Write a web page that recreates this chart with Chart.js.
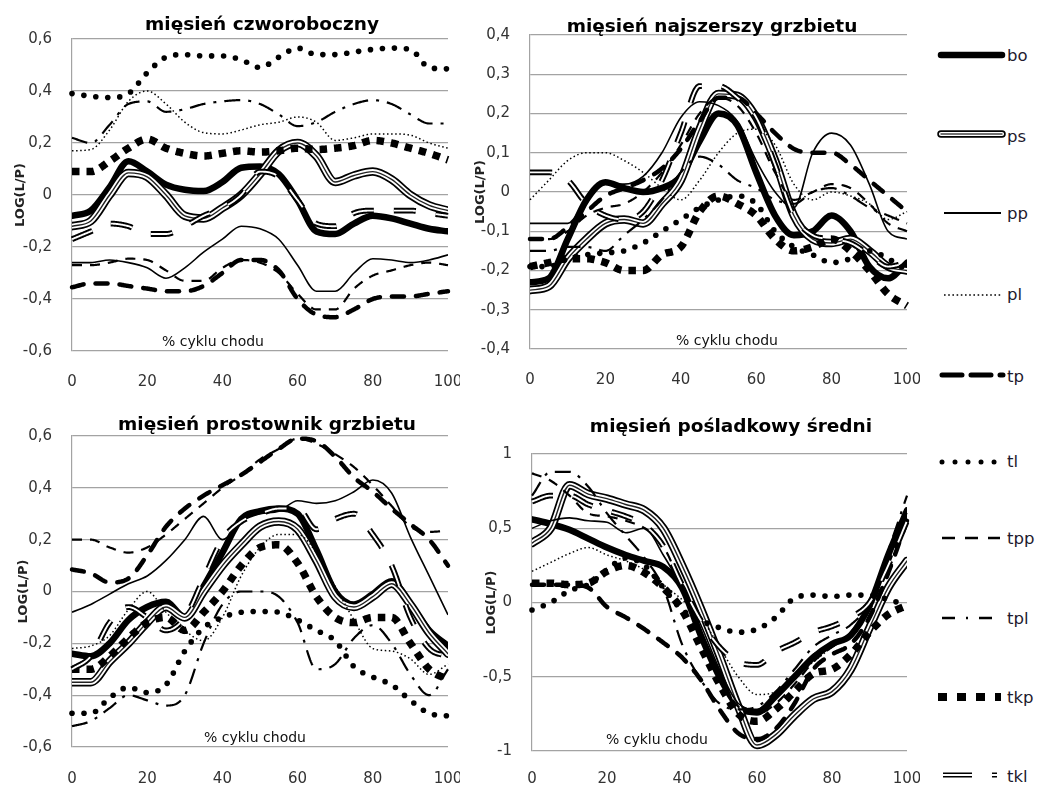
<!DOCTYPE html>
<html><head><meta charset="utf-8">
<script src="https://cdn.jsdelivr.net/npm/chart.js@4.4.1/dist/chart.umd.min.js"></script>
<style>
html,body{margin:0;padding:0;background:#fff;}
#wrap{position:relative;width:1039px;height:786px;background:#fff;overflow:hidden;}
canvas{position:absolute;}
#legend{position:absolute;left:920px;top:0;}
</style></head><body>
<div id="wrap">
<canvas id="c1" width="460" height="395" style="left:0;top:0"></canvas>
<canvas id="c2" width="460" height="395" style="left:460px;top:0"></canvas>
<canvas id="c3" width="460" height="391" style="left:0;top:395px"></canvas>
<canvas id="c4" width="460" height="391" style="left:460px;top:395px"></canvas>
<svg id="legend" width="119" height="786"></svg>
</div>
<script>
// ---------- DATA ----------
const xs = [0,5,10,15,20,25,30,35,40,45,50,55,60,65,70,75,80,85,90,95,100];
const xTicks = [0,20,40,60,80,100];
const seriesNames = ['bo','ps','pp','pl','tp','tl','tpp','tpl','tkp','tkl'];
const titles = ['mięsień czworoboczny','mięsień najszerszy grzbietu','mięsień prostownik grzbietu','mięsień pośladkowy średni'];
const yTicks1 = [-0.6,-0.4,-0.2,0,0.2,0.4,0.6];
const yTicks2 = [-0.4,-0.3,-0.2,-0.1,0,0.1,0.2,0.3,0.4];
const yTicks3 = [-0.6,-0.4,-0.2,0,0.2,0.4,0.6];
const yTicks4 = [-1,-0.5,0,0.5,1];

// mięsień czworoboczny
const t_bo  = [-0.08,-0.06,0.03,0.13,0.09,0.04,0.02,0.015,0.05,0.105,0.11,0.08,-0.02,-0.14,-0.15,-0.11,-0.08,-0.09,-0.11,-0.13,-0.14];
const t_ps  = [-0.12,-0.1,0.0,0.085,0.07,0.0,-0.08,-0.09,-0.05,0.0,0.08,0.17,0.2,0.15,0.05,0.075,0.09,0.06,0.0,-0.04,-0.06];
const t_pp  = [-0.26,-0.26,-0.25,-0.26,-0.28,-0.32,-0.28,-0.22,-0.17,-0.12,-0.13,-0.17,-0.27,-0.37,-0.37,-0.3,-0.245,-0.25,-0.26,-0.25,-0.23];
const t_pl  = [0.17,0.175,0.25,0.36,0.4,0.35,0.28,0.24,0.235,0.25,0.27,0.28,0.3,0.28,0.21,0.22,0.235,0.235,0.23,0.2,0.18];
const t_tp  = [-0.355,-0.34,-0.34,-0.35,-0.36,-0.37,-0.37,-0.35,-0.3,-0.25,-0.25,-0.29,-0.4,-0.46,-0.47,-0.44,-0.4,-0.39,-0.39,-0.38,-0.37];
const t_tl  = [0.39,0.38,0.375,0.39,0.47,0.53,0.54,0.535,0.535,0.52,0.49,0.53,0.565,0.54,0.54,0.55,0.56,0.565,0.56,0.49,0.485];
const t_tpp = [-0.27,-0.27,-0.26,-0.245,-0.25,-0.29,-0.33,-0.33,-0.28,-0.25,-0.26,-0.3,-0.38,-0.44,-0.44,-0.36,-0.31,-0.29,-0.27,-0.26,-0.27];
const t_tpl = [0.22,0.2,0.27,0.35,0.36,0.32,0.33,0.35,0.36,0.365,0.35,0.31,0.265,0.28,0.32,0.35,0.365,0.35,0.31,0.275,0.275];
const t_tkp = [0.09,0.09,0.13,0.18,0.215,0.18,0.16,0.15,0.16,0.17,0.165,0.17,0.18,0.175,0.18,0.19,0.21,0.2,0.18,0.16,0.135];
const t_tkl = [-0.17,-0.14,-0.11,-0.12,-0.15,-0.15,-0.12,-0.08,-0.05,0.0,0.09,0.07,-0.02,-0.11,-0.12,-0.07,-0.06,-0.06,-0.06,-0.07,-0.08];

// mięsień najszerszy grzbietu
const l_bo  = [-0.23,-0.22,-0.12,-0.02,0.025,0.01,0.0,0.01,0.04,0.13,0.2,0.17,0.05,-0.06,-0.11,-0.1,-0.06,-0.1,-0.19,-0.22,-0.18];
const l_ps  = [-0.25,-0.24,-0.17,-0.12,-0.08,-0.07,-0.08,-0.03,0.03,0.16,0.25,0.245,0.19,0.08,-0.06,-0.12,-0.13,-0.12,-0.15,-0.19,-0.2];
const l_pp  = [-0.08,-0.08,-0.08,-0.02,0.02,0.02,0.04,0.1,0.19,0.23,0.22,0.18,0.08,0.0,-0.04,0.1,0.15,0.12,0.02,-0.1,-0.12];
const l_pl  = [-0.02,0.03,0.08,0.1,0.1,0.08,0.05,0.01,-0.02,0.03,0.1,0.15,0.16,0.12,0.02,-0.02,0.0,-0.01,-0.03,-0.07,-0.05];
const l_tp  = [-0.12,-0.12,-0.09,-0.05,-0.01,0.01,0.03,0.06,0.11,0.18,0.24,0.24,0.2,0.15,0.11,0.1,0.1,0.07,0.03,-0.01,-0.05];
const l_tl  = [-0.19,-0.19,-0.17,-0.16,-0.155,-0.15,-0.13,-0.1,-0.07,-0.04,-0.02,-0.01,-0.03,-0.1,-0.14,-0.16,-0.18,-0.17,-0.15,-0.17,-0.2];
const l_tpp = [-0.12,-0.12,-0.1,-0.06,-0.04,-0.03,0.0,0.05,0.12,0.2,0.24,0.22,0.15,0.05,-0.02,0.0,0.02,0.01,-0.03,-0.08,-0.1];
const l_tpl = [-0.15,-0.15,-0.14,-0.14,-0.15,-0.11,-0.07,-0.02,0.05,0.09,0.07,0.03,0.01,-0.02,-0.03,0.0,0.01,-0.01,-0.04,-0.06,-0.08];
const l_tkp = [-0.19,-0.18,-0.17,-0.17,-0.18,-0.2,-0.2,-0.16,-0.14,-0.05,-0.01,-0.03,-0.06,-0.12,-0.15,-0.14,-0.12,-0.15,-0.2,-0.26,-0.29];
const l_tkl = [0.05,0.05,0.03,-0.03,-0.06,-0.07,-0.05,0.03,0.15,0.27,0.27,0.24,0.19,0.07,-0.06,-0.11,-0.12,-0.13,-0.16,-0.19,-0.18];

// mięsień prostownik grzbietu
const e_bo  = [-0.24,-0.25,-0.2,-0.11,-0.06,-0.04,-0.1,0.02,0.15,0.28,0.31,0.32,0.3,0.16,0.0,-0.05,-0.01,0.04,-0.05,-0.15,-0.21];
const e_ps  = [-0.35,-0.35,-0.27,-0.2,-0.12,-0.06,-0.1,0.0,0.1,0.18,0.25,0.27,0.24,0.12,-0.02,-0.06,-0.02,0.03,-0.05,-0.16,-0.24];
const e_pp  = [-0.08,-0.05,-0.01,0.03,0.06,0.12,0.2,0.29,0.2,0.27,0.3,0.31,0.35,0.34,0.35,0.385,0.43,0.38,0.21,0.06,-0.09];
const e_pl  = [-0.22,-0.21,-0.17,-0.07,0.0,-0.08,-0.15,-0.19,-0.1,0.06,0.17,0.22,0.22,0.15,0.02,-0.11,-0.22,-0.23,-0.26,-0.32,-0.28];
const e_tp  = [0.085,0.07,0.035,0.05,0.14,0.25,0.32,0.37,0.41,0.45,0.5,0.55,0.59,0.58,0.52,0.44,0.385,0.32,0.26,0.2,0.1];
const e_tl  = [-0.47,-0.47,-0.41,-0.37,-0.39,-0.36,-0.23,-0.14,-0.1,-0.08,-0.077,-0.08,-0.11,-0.15,-0.19,-0.29,-0.33,-0.36,-0.42,-0.47,-0.48];
const e_tpp = [0.2,0.2,0.17,0.15,0.17,0.22,0.28,0.34,0.4,0.45,0.51,0.55,0.59,0.57,0.53,0.48,0.41,0.33,0.25,0.23,0.235];
const e_tpl = [-0.52,-0.5,-0.45,-0.4,-0.42,-0.44,-0.4,-0.2,-0.05,0.0,0.0,-0.02,-0.12,-0.3,-0.28,-0.18,-0.13,-0.2,-0.32,-0.4,-0.3];
const e_tkp = [-0.3,-0.3,-0.25,-0.18,-0.12,-0.1,-0.15,-0.08,0.0,0.1,0.17,0.18,0.11,-0.02,-0.1,-0.12,-0.1,-0.1,-0.2,-0.3,-0.34];
const e_tkl = [-0.3,-0.25,-0.12,-0.06,-0.1,-0.15,-0.1,0.05,0.2,0.27,0.3,0.32,0.32,0.24,0.28,0.3,0.22,0.1,-0.1,-0.22,-0.25];

// mięsień pośladkowy średni
const g_bo  = [0.56,0.53,0.49,0.43,0.37,0.32,0.28,0.24,0.1,-0.22,-0.5,-0.7,-0.74,-0.63,-0.5,-0.37,-0.28,-0.22,-0.02,0.32,0.62];
const g_ps  = [0.4,0.5,0.79,0.73,0.7,0.66,0.62,0.5,0.25,-0.04,-0.36,-0.7,-0.96,-0.89,-0.76,-0.65,-0.6,-0.45,-0.17,0.1,0.28];
const g_pp  = [0.5,0.55,0.57,0.55,0.54,0.47,0.5,0.32,0.1,-0.15,-0.45,-0.68,-0.72,-0.62,-0.5,-0.35,-0.3,-0.2,0.0,0.3,0.6];
const g_pl  = [0.21,0.27,0.33,0.37,0.32,0.28,0.22,0.12,0.02,-0.1,-0.3,-0.5,-0.62,-0.6,-0.5,-0.4,-0.3,-0.2,0.0,0.3,0.55];
const g_tp  = [0.12,0.12,0.12,0.1,-0.03,-0.1,-0.18,-0.27,-0.37,-0.52,-0.72,-0.88,-0.92,-0.85,-0.68,-0.45,-0.35,-0.28,-0.1,0.2,0.55];
const g_tl  = [-0.05,0.0,0.08,0.12,0.22,0.3,0.25,0.1,-0.05,-0.12,-0.17,-0.2,-0.18,-0.1,0.03,0.05,0.04,0.05,0.05,0.02,-0.02];
const g_tpp = [0.87,0.82,0.72,0.6,0.58,0.55,0.5,0.38,0.1,-0.2,-0.5,-0.7,-0.75,-0.68,-0.55,-0.4,-0.3,-0.22,-0.05,0.25,0.6];
const g_tpl = [0.72,0.88,0.88,0.78,0.6,0.45,0.3,0.1,-0.28,-0.52,-0.68,-0.72,-0.7,-0.6,-0.45,-0.3,-0.22,-0.15,0.0,0.35,0.72];
const g_tkp = [0.13,0.13,0.12,0.13,0.21,0.25,0.2,0.1,-0.05,-0.3,-0.55,-0.75,-0.8,-0.72,-0.6,-0.48,-0.45,-0.35,-0.2,-0.08,-0.02];
const g_tkl = [0.68,0.72,0.72,0.66,0.62,0.58,0.52,0.38,0.12,-0.12,-0.3,-0.4,-0.42,-0.33,-0.27,-0.2,-0.16,-0.1,0.0,0.25,0.55];

// ---------- STYLES ----------
const STYLE = {
  bo:  [{w:6.5, cap:'round'}],
  ps:  [{w:8.5, cap:'round'}, {w:5, c:'#ffffff', cap:'round'}, {w:1.4, c:'#222222', cap:'round'}],
  pp:  [{w:1.6}],
  pl:  [{w:1.5, dash:[1.5,2.6]}],
  tp:  [{w:4.5, dash:[12,12], cap:'round'}],
  tl:  [{w:5.5, dots:true, sp:12, r:2.8}],
  tpp: [{w:2.2, dash:[10,8]}],
  tpl: [{w:2.2, dash:[16,8,3,8]}],
  tkp: [{w:7.5, dash:[7.5,7]}],
  tkl: [{w:5.8, dash:[22,20]}, {w:1.9, c:'#ffffff', dash:[22,20]}]
};

Chart.defaults.font.family = "'DejaVu Sans', sans-serif";
Chart.defaults.color = '#333';

const fmt = v => String(Math.round(v*10)/10).replace('.', ',');

// stroke dashed / dotted curves along the path Chart.js computes for the dataset
function drawDashes(ctx, poly, m) {
  ctx.strokeStyle = m.color; ctx.lineWidth = m.w; ctx.lineCap = m.cap || 'butt'; ctx.lineJoin = 'round';
  const dash = m.dash;
  let di = 0, rem = dash[0], on = true;
  let cur = [poly[0]];
  const flush = () => {
    if (cur.length > 1) {
      ctx.beginPath(); ctx.moveTo(cur[0][0], cur[0][1]);
      for (let k = 1; k < cur.length; k++) ctx.lineTo(cur[k][0], cur[k][1]);
      ctx.stroke();
    }
  };
  for (let i = 1; i < poly.length; i++) {
    let px = poly[i-1][0], py = poly[i-1][1];
    const x1 = poly[i][0], y1 = poly[i][1];
    let len = Math.hypot(x1 - px, y1 - py);
    while (len > 0 && len >= rem) {
      const f = rem / len;
      px += (x1 - px) * f; py += (y1 - py) * f;
      len -= rem;
      if (on) { cur.push([px, py]); flush(); }
      di = (di + 1) % dash.length; rem = dash[di]; on = (di % 2 === 0);
      if (on) cur = [[px, py]];
    }
    rem -= len;
    if (on) cur.push([x1, y1]);
  }
  if (on) flush();
}
function drawDots(ctx, poly, m) {
  ctx.fillStyle = m.color;
  let rem = 0;
  for (let i = 1; i < poly.length; i++) {
    let px = poly[i-1][0], py = poly[i-1][1];
    const x1 = poly[i][0], y1 = poly[i][1];
    let len = Math.hypot(x1 - px, y1 - py);
    while (len >= rem) {
      const f = len > 0 ? rem / len : 0;
      px += (x1 - px) * f; py += (y1 - py) * f; len -= rem;
      ctx.beginPath(); ctx.arc(px, py, m.r, 0, Math.PI * 2); ctx.fill();
      rem = m.sp;
    }
    rem -= len;
  }
}
const patternLines = {
  id: 'patternLines',
  beforeDatasetDraw(chart, args) {
    const ds = chart.data.datasets[args.index];
    const m = ds.pattern;
    if (!m) return;
    const line = args.meta.dataset;
    if (typeof line.updateControlPoints === 'function') line.updateControlPoints(chart.chartArea, 'x');
    const pts = line.points || args.meta.data;
    const poly = [];
    for (let i = 0; i < pts.length; i++) {
      const p = pts[i];
      if (i === 0) { poly.push([p.x, p.y]); continue; }
      const q = pts[i - 1];
      const hasCp = q.cp2x !== undefined && p.cp1x !== undefined;
      const N = 24;
      for (let s = 1; s <= N; s++) {
        const t = s / N, mt = 1 - t;
        if (hasCp) {
          const a = mt*mt*mt, b = 3*mt*mt*t, c = 3*mt*t*t, d = t*t*t;
          poly.push([a*q.x + b*q.cp2x + c*p.cp1x + d*p.x, a*q.y + b*q.cp2y + c*p.cp1y + d*p.y]);
        } else {
          poly.push([q.x + (p.x - q.x) * t, q.y + (p.y - q.y) * t]);
        }
      }
    }
    const ctx = chart.ctx, ca = chart.chartArea;
    ctx.save();
    ctx.beginPath();
    ctx.rect(ca.left - m.w, ca.top - m.w, ca.right - ca.left + 2 * m.w, ca.bottom - ca.top + 2 * m.w);
    ctx.clip();
    if (m.dots) drawDots(ctx, poly, m); else drawDashes(ctx, poly, m);
    ctx.restore();
    return false;
  }
};

const panelText = {
  id: 'panelText',
  afterDatasetsDraw(chart, args, o) {
    const ctx = chart.ctx;
    ctx.save();
    ctx.fillStyle = '#111';
    ctx.textAlign = 'center';
    ctx.textBaseline = 'middle';
    ctx.font = "14px 'DejaVu Sans', sans-serif";
    ctx.fillText('% cyklu chodu', o.xlX, o.xlY);
    ctx.font = "bold 18.5px 'DejaVu Sans', sans-serif";
    ctx.fillStyle = '#000';
    ctx.fillText(o.title, o.tX, o.tY);
    ctx.restore();
  }
};

function makePanel(id, vals, yMin, yMax, yTicks, a, txt) {
  const cv = document.getElementById(id);
  const W = cv.width, H = cv.height;
  const datasets = [];
  seriesNames.forEach(name => {
    STYLE[name].forEach(st => {
      const color = st.c || '#000000';
      const ds = {
        label: name,
        data: xs.map((x, i) => ({x: x, y: vals[name][i]})),
        borderColor: color,
        borderWidth: st.w,
        borderCapStyle: st.cap || 'butt',
        borderJoinStyle: 'round',
        pointRadius: 0,
        fill: false,
        cubicInterpolationMode: 'monotone'
      };
      if (st.dash || st.dots) {
        ds.borderDash = st.dash || [1, 10];
        ds.pattern = {w: st.w, color: color, dash: st.dash, cap: st.cap, dots: st.dots, sp: st.sp, r: st.r};
      }
      datasets.push(ds);
    });
  });
  datasets.forEach((d, i) => { d.order = datasets.length - i; });
  return new Chart(cv, {
    type: 'line',
    data: {datasets},
    plugins: [patternLines, panelText],
    options: {
      responsive: false, animation: false, events: [],
      layout: {padding: {left: 0, top: a.top, right: W - a.right, bottom: 0}},
      plugins: {legend: {display: false}, tooltip: {enabled: false}, title: {display: false},
        panelText: txt},
      scales: {
        x: {type: 'linear', min: 0, max: 100,
          afterBuildTicks: s => { s.ticks = xTicks.map(v => ({value: v})); },
          grid: {display: false}, border: {display: false},
          ticks: {padding: a.xp, font: {size: 15}, color: '#333', maxRotation: 0, callback: v => String(v)},
          afterFit: s => { s.height = H - a.bottom; s.paddingLeft = 0; s.paddingRight = 0; }
        },
        y: {type: 'linear', min: yMin, max: yMax,
          afterBuildTicks: s => { s.ticks = yTicks.map(v => ({value: v})); },
          grid: {color: '#a3a3a3', lineWidth: 1.2, drawTicks: false},
          border: {display: true, color: '#a3a3a3', width: 1.2},
          ticks: {padding: 20, font: {size: 15}, color: '#333', callback: v => fmt(v)},
          title: {display: true, text: 'LOG(L/P)', color: '#222', font: {size: 13, weight: 'bold'}, padding: {top: a.ytp, bottom: 0}},
          afterFit: s => { s.width = a.left; s.paddingTop = 0; s.paddingBottom = 0; }
        }
      }
    }
  });
}

const mk = (p) => ({bo: p[0], ps: p[1], pp: p[2], pl: p[3], tp: p[4], tl: p[5], tpp: p[6], tpl: p[7], tkp: p[8], tkl: p[9]});

makePanel('c1', mk([t_bo,t_ps,t_pp,t_pl,t_tp,t_tl,t_tpp,t_tpl,t_tkp,t_tkl]), -0.6, 0.6, yTicks1,
  {left: 72, top: 39, right: 448, bottom: 351, ytp: 13, xp: 14},
  {title: titles[0], tX: 262, tY: 25, xlX: 213, xlY: 342});
makePanel('c2', mk([l_bo,l_ps,l_pp,l_pl,l_tp,l_tl,l_tpp,l_tpl,l_tkp,l_tkl]), -0.4, 0.4, yTicks2,
  {left: 70, top: 35, right: 447, bottom: 349, ytp: 13, xp: 14},
  {title: titles[1], tX: 252, tY: 27, xlX: 267, xlY: 341});
makePanel('c3', mk([e_bo,e_ps,e_pp,e_pl,e_tp,e_tl,e_tpp,e_tpl,e_tkp,e_tkl]), -0.6, 0.6, yTicks3,
  {left: 72, top: 41, right: 448, bottom: 352, ytp: 16, xp: 15},
  {title: titles[2], tX: 267, tY: 30, xlX: 255, xlY: 343});
makePanel('c4', mk([g_bo,g_ps,g_pp,g_pl,g_tp,g_tl,g_tpp,g_tpl,g_tkp,g_tkl]), -1, 1, yTicks4,
  {left: 72, top: 59, right: 447, bottom: 356, ytp: 24, xp: 11},
  {title: titles[3], tX: 271, tY: 32, xlX: 197, xlY: 345});

// ---------- LEGEND ----------
(function () {
  const svg = document.getElementById('legend');
  const NS = 'http://www.w3.org/2000/svg';
  const rows = [
    {n: 'bo',  y: 55,  ty: 55,  x1: 21, x2: 82, parts: [{w: 6.5, cap: 'round'}]},
    {n: 'ps',  y: 134, ty: 136, x1: 21, x2: 82, parts: [{w: 7.5, cap: 'round'}, {w: 4.2, c: '#fff', cap: 'round'}, {w: 1.3, c: '#444', cap: 'round'}]},
    {n: 'pp',  y: 213, ty: 213, x1: 24, x2: 81, parts: [{w: 1.8}]},
    {n: 'pl',  y: 295, ty: 294, x1: 24, x2: 81, parts: [{w: 1.6, dash: '1.6 2.6'}]},
    {n: 'tp',  y: 375, ty: 376, x1: 22, x2: 83, parts: [{w: 5, dash: '20 9', cap: 'round'}]},
    {n: 'tl',  y: 462, ty: 461, x1: 22, x2: 80, parts: [{w: 5, dash: '0.01 13', cap: 'round'}]},
    {n: 'tpp', y: 538, ty: 538, x1: 22, x2: 80, parts: [{w: 2.5, dash: '13 10'}]},
    {n: 'tpl', y: 618, ty: 618, x1: 22, x2: 73, parts: [{w: 2.5, dash: '13 11 2 11'}]},
    {n: 'tkp', y: 697, ty: 697, x1: 18, x2: 81, parts: [{w: 8, dash: '9 10'}]},
    {n: 'tkl', y: 775, ty: 776, x1: 23, x2: 77, parts: [{w: 5, dash: '29 20'}, {w: 1.8, c: '#fff', dash: '29 20'}]}
  ];
  rows.forEach(r => {
    r.parts.forEach(p => {
      const l = document.createElementNS(NS, 'line');
      l.setAttribute('x1', r.x1); l.setAttribute('x2', r.x2);
      l.setAttribute('y1', r.y); l.setAttribute('y2', r.y);
      l.setAttribute('stroke', p.c || '#000');
      l.setAttribute('stroke-width', p.w);
      l.setAttribute('stroke-linecap', p.cap || 'butt');
      if (p.dash) l.setAttribute('stroke-dasharray', p.dash);
      svg.appendChild(l);
    });
    const t = document.createElementNS(NS, 'text');
    t.setAttribute('x', 87); t.setAttribute('y', r.ty);
    t.setAttribute('dominant-baseline', 'central');
    t.setAttribute('font-family', "'DejaVu Sans', sans-serif");
    t.setAttribute('font-size', '16.5');
    t.setAttribute('fill', '#1e1a2e');
    t.textContent = r.n;
    svg.appendChild(t);
  });
})();
</script>
</body></html>
